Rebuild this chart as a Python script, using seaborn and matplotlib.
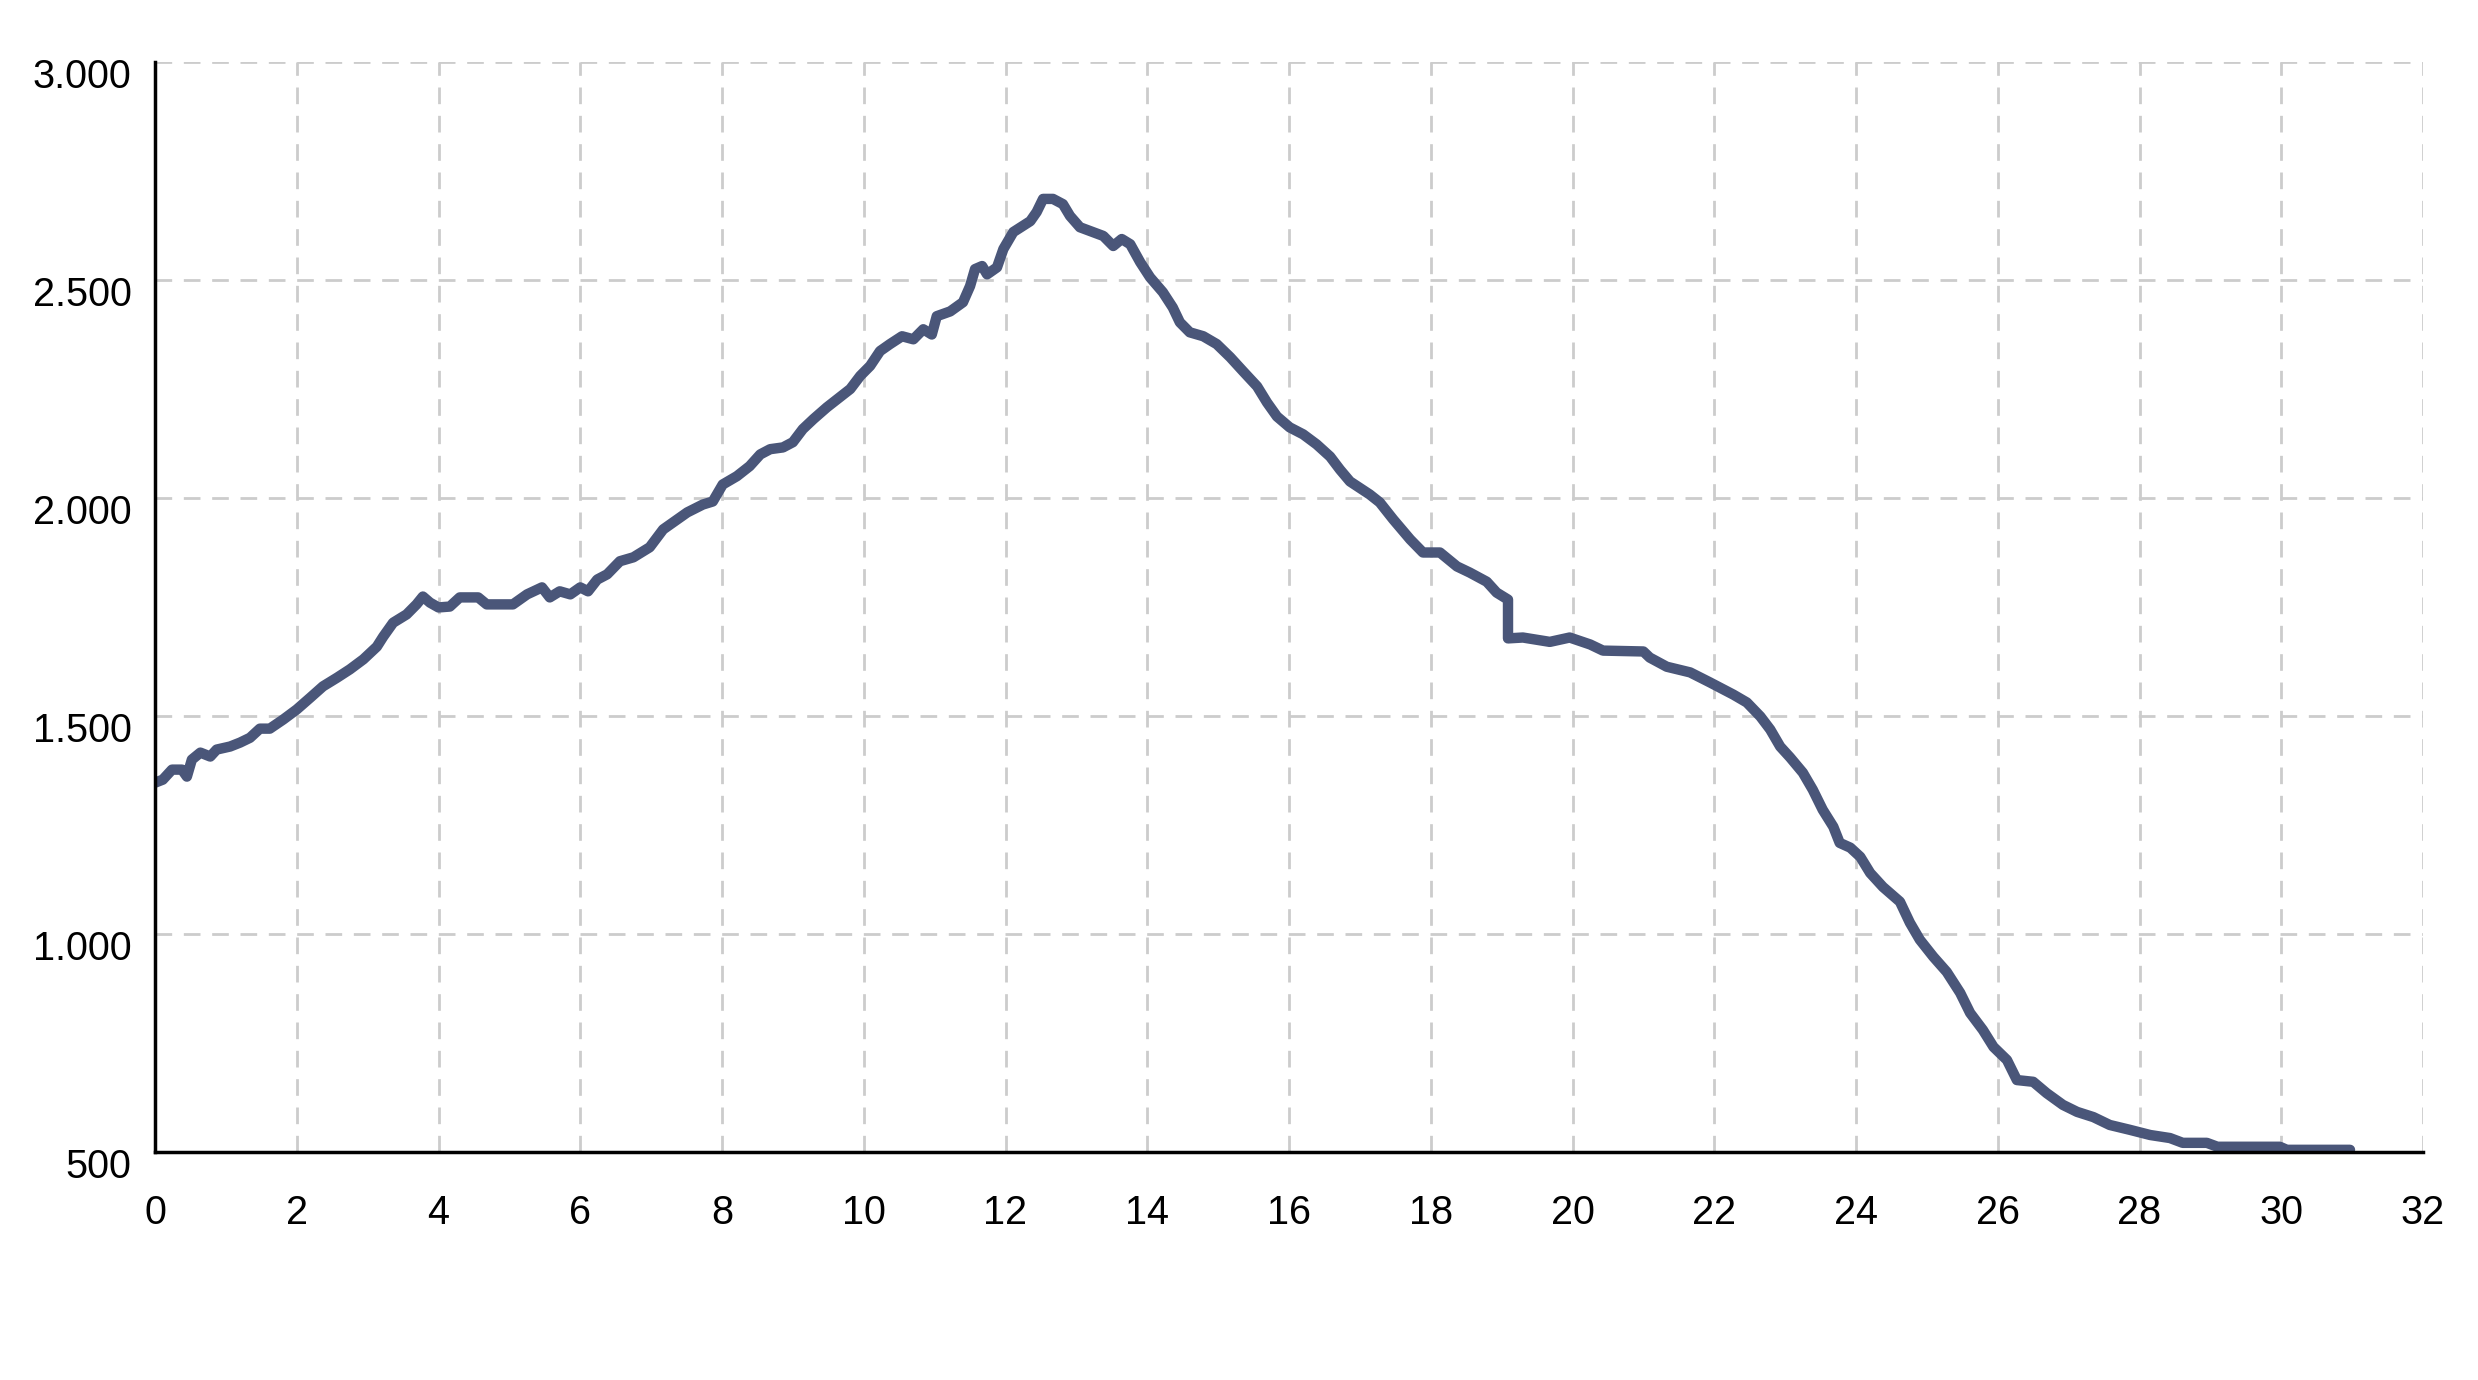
import matplotlib
matplotlib.use("Agg")
import matplotlib.pyplot as plt
import matplotlib.transforms as mtransforms
from matplotlib.ticker import FuncFormatter
import seaborn as sns
import pandas as pd

# distance along route (km)
distance_km = [
    0.00, 0.11, 0.24, 0.38, 0.45, 0.52, 0.64, 0.78, 0.87, 1.06,
    1.20, 1.34, 1.48, 1.62, 1.81, 2.00, 2.19, 2.37, 2.57, 2.75,
    2.94, 3.13, 3.22, 3.36, 3.55, 3.69, 3.78, 3.88, 4.00, 4.16,
    4.30, 4.44, 4.56, 4.68, 4.87, 5.05, 5.25, 5.46, 5.57, 5.71,
    5.86, 6.00, 6.11, 6.24, 6.38, 6.56, 6.75, 6.98, 7.17, 7.31,
    7.51, 7.73, 7.87, 8.01, 8.21, 8.39, 8.54, 8.68, 8.86, 9.00,
    9.14, 9.29, 9.48, 9.66, 9.81, 9.95, 10.09, 10.23, 10.37, 10.54,
    10.70, 10.84, 10.96, 11.03, 11.22, 11.40, 11.50, 11.57, 11.67, 11.74,
    11.88, 11.97, 12.11, 12.35, 12.44, 12.53, 12.67, 12.81, 12.91, 13.05,
    13.23, 13.38, 13.52, 13.64, 13.76, 13.90, 14.04, 14.22, 14.36, 14.46,
    14.60, 14.79, 14.98, 15.17, 15.35, 15.55, 15.69, 15.83, 16.01, 16.20,
    16.39, 16.58, 16.72, 16.86, 17.14, 17.28, 17.47, 17.71, 17.89, 18.13,
    18.37, 18.55, 18.79, 18.93, 19.09, 19.09, 19.30, 19.68, 19.96, 20.25,
    20.43, 21.00, 21.09, 21.33, 21.66, 21.94, 22.27, 22.46, 22.65, 22.79,
    22.93, 23.07, 23.25, 23.39, 23.53, 23.68, 23.77, 23.92, 24.06, 24.20,
    24.38, 24.62, 24.76, 24.90, 25.09, 25.28, 25.47, 25.61, 25.79, 25.94,
    26.13, 26.27, 26.50, 26.69, 26.92, 27.12, 27.35, 27.58, 27.86, 28.15,
    28.43, 28.61, 28.95, 29.10, 29.98, 30.08, 30.97,
]

# elevation (m)
elevation_m = [
    1347, 1354, 1377, 1377, 1361, 1400, 1416, 1407, 1423, 1430,
    1439, 1450, 1471, 1471, 1492, 1515, 1542, 1568, 1588, 1607,
    1630, 1659, 1682, 1714, 1733, 1756, 1774, 1760, 1749, 1751,
    1772, 1772, 1772, 1756, 1756, 1756, 1779, 1795, 1772, 1786,
    1779, 1795, 1786, 1813, 1825, 1855, 1864, 1887, 1928, 1944,
    1967, 1985, 1992, 2031, 2050, 2073, 2100, 2112, 2116, 2128,
    2158, 2181, 2208, 2231, 2250, 2280, 2303, 2337, 2353, 2371,
    2364, 2387, 2375, 2417, 2428, 2449, 2486, 2525, 2532, 2513,
    2529, 2571, 2610, 2635, 2656, 2686, 2686, 2674, 2647, 2621,
    2610, 2601, 2578, 2594, 2582, 2541, 2506, 2472, 2437, 2403,
    2380, 2371, 2353, 2323, 2291, 2256, 2219, 2187, 2162, 2146,
    2123, 2095, 2065, 2038, 2008, 1990, 1951, 1905, 1875, 1875,
    1843, 1829, 1808, 1783, 1767, 1678, 1680, 1670, 1680, 1664,
    1650, 1648, 1634, 1613, 1600, 1577, 1549, 1531, 1499, 1469,
    1430, 1405, 1370, 1331, 1285, 1246, 1209, 1198, 1177, 1140,
    1108, 1074, 1026, 987, 948, 913, 865, 819, 780, 741,
    711, 665, 661, 635, 608, 592, 580, 562, 551, 539,
    532, 521, 521, 512, 512, 505, 505,
]

x_ticks = list(range(0, 33, 2))
y_ticks = [500, 1000, 1500, 2000, 2500, 3000]

df = pd.DataFrame({"km": distance_km, "elev": elevation_m})

sns.set_theme(style="white")
plt.rcParams["font.family"] = ["Liberation Sans", "DejaVu Sans"]

fig = plt.figure(figsize=(24.78, 13.80), dpi=100)
ax = fig.add_axes([155 / 2478, 1 - 1152 / 1380, (2423 - 155) / 2478, (1152 - 62) / 1380])

sns.lineplot(data=df, x="km", y="elev", ax=ax, color="#4a5679", linewidth=7.5,
             estimator=None, sort=False, solid_joinstyle="round", solid_capstyle="round")

ax.set_xlim(0, 32)
ax.set_ylim(500, 3000)
ax.set_xticks(x_ticks)
ax.set_yticks(y_ticks)
ax.yaxis.set_major_formatter(FuncFormatter(lambda v, p: f"{v:,.0f}".replace(",", ".")))
ax.set_xlabel("")
ax.set_ylabel("")

ax.grid(True, color="#cccccc", linewidth=2.0, linestyle=(0, (6.0, 4.2)))
ax.set_axisbelow(True)

for s in ["top", "right"]:
    ax.spines[s].set_visible(False)
for s in ["left", "bottom"]:
    ax.spines[s].set_color("black")
    ax.spines[s].set_linewidth(2.5)

ax.tick_params(axis="x", length=0, pad=30, labelsize=28.5, labelcolor="black")
ax.tick_params(axis="y", length=0, pad=17, labelsize=28.5, labelcolor="black")

offset = mtransforms.ScaledTranslation(0, -8 / 72, fig.dpi_scale_trans)
for lab in ax.get_yticklabels():
    lab.set_transform(lab.get_transform() + offset)

fig.savefig("out.png", dpi=100, facecolor="white")
